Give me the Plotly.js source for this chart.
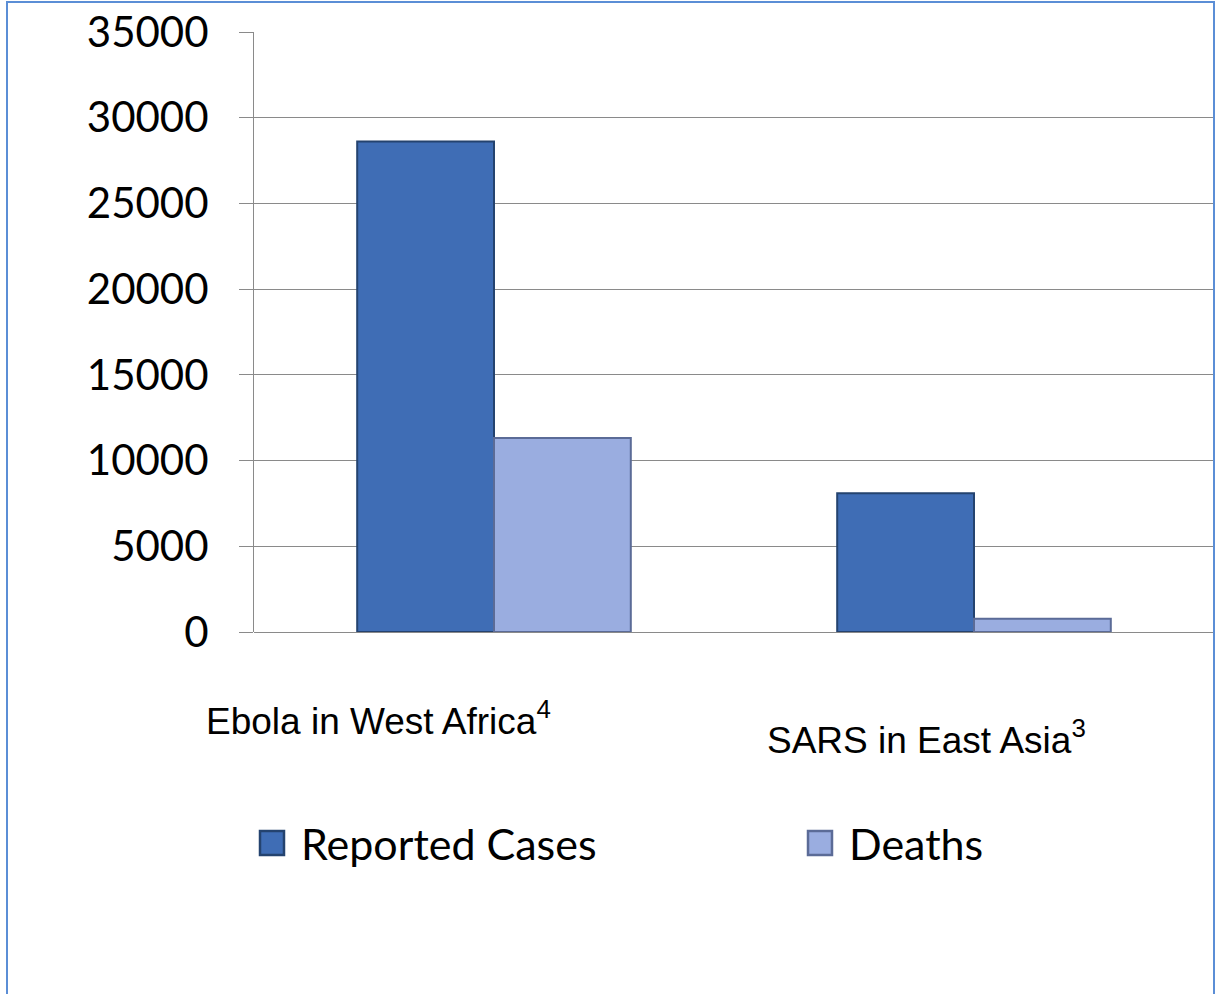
<!DOCTYPE html>
<html>
<head>
<meta charset="utf-8">
<script src="https://cdn.plot.ly/plotly-3.0.1.min.js"></script>
<style>
  html, body { margin: 0; padding: 0; background: #ffffff; }
  #chart { width: 1218px; height: 994px; }
</style>
</head>
<body>
<div id="chart"></div>
<script>
// Outbreak totals
const categories = ["Ebola in West Africa", "SARS in East Asia"];
const categoryLabels = ["Ebola in West Africa<sup>4</sup>", "SARS in East Asia<sup>3</sup>"];
const reportedCases = [28616, 8096];
const deaths = [11310, 774];
const seriesNames = ["Reported Cases", "Deaths"];
const yTicks = [0, 5000, 10000, 15000, 20000, 25000, 30000, 35000];

const casesColor = "#3f6db5";
const casesEdge = "#24436f";
const deathsColor = "#9aade0";
const deathsEdge = "#5b6b97";
const gridColor = "#8a8a8a";

// plot-area geometry helpers (pixels -> paper fractions)
const M = { l: 254, r: 4, t: 32, b: 362 };
const W = 1218, H = 994;
const plotW = W - M.l - M.r, plotH = H - M.t - M.b;
const px = v => (v - M.l) / plotW;
const py = v => (H - M.b - v) / plotH;

const traces = [
  {
    type: "bar", x: categories, y: reportedCases, name: seriesNames[0],
    marker: { color: casesColor, line: { color: casesEdge, width: 2 } }
  },
  {
    type: "bar", x: categories, y: deaths, name: seriesNames[1],
    marker: { color: deathsColor, line: { color: deathsEdge, width: 2 } }
  }
];

// legend keys: swatch + label for each series
const legendFont = { family: "Lato, 'Open Sans', sans-serif", size: 43, color: "#000000" };
const legendSwatchX = [260, 808];
const legendFill = [casesColor, deathsColor];
const legendEdge = [casesEdge, deathsEdge];
const legendY = 843;
const legendShapes = seriesNames.map((n, i) => ({
  type: "rect", xref: "paper", yref: "paper",
  x0: px(legendSwatchX[i]), x1: px(legendSwatchX[i] + 24),
  y0: py(legendY + 12), y1: py(legendY - 12),
  fillcolor: legendFill[i], line: { color: legendEdge[i], width: 2.5 }
}));
const legendLabels = seriesNames.map((n, i) => ({
  xref: "paper", yref: "paper", x: px(legendSwatchX[i] + 39), y: py(legendY),
  xanchor: "left", yanchor: "middle", showarrow: false, text: n, font: legendFont
}));

const catFont = { family: "'Liberation Sans', Arial, sans-serif", size: 37, color: "#000000" };

const layout = {
  width: W, height: H,
  margin: { l: M.l, r: M.r, t: M.t, b: M.b, pad: 0 },
  paper_bgcolor: "#ffffff", plot_bgcolor: "#ffffff",
  barmode: "group", bargap: 0.43, bargroupgap: 0,
  showlegend: false,
  xaxis: {
    type: "category", categoryorder: "array", categoryarray: categories,
    range: [-0.5, 1.5],
    showticklabels: false, ticks: "", showgrid: false, zeroline: false,
    showline: false, fixedrange: true
  },
  yaxis: {
    range: [0, 35000], tickvals: yTicks, ticktext: yTicks.map(String),
    ticks: "outside", ticklen: 14, tickcolor: gridColor, tickwidth: 1,
    showgrid: true, gridcolor: gridColor, gridwidth: 1,
    zeroline: true, zerolinecolor: gridColor, zerolinewidth: 1,
    showline: true, linecolor: gridColor, linewidth: 1,
    ticklabelstandoff: 22,
    tickfont: { family: "Lato, 'Open Sans', sans-serif", size: 42, color: "#000000" },
    fixedrange: true
  },
  annotations: [
    { xref: "x", yref: "paper", x: categories[0], y: py(718), xshift: -116,
      text: categoryLabels[0], showarrow: false, xanchor: "center", yanchor: "middle", font: catFont },
    { xref: "x", yref: "paper", x: categories[1], y: py(737), xshift: -48,
      text: categoryLabels[1], showarrow: false, xanchor: "center", yanchor: "middle", font: catFont }
  ].concat(legendLabels),
  shapes: [
    // chart frame
    { type: "rect", xref: "paper", yref: "paper", x0: px(7), x1: px(1214), y0: py(1000), y1: py(2),
      line: { color: "#5b8ed6", width: 2 }, fillcolor: "rgba(0,0,0,0)", layer: "above" }
  ].concat(legendShapes)
};

Plotly.newPlot("chart", traces, layout, { displayModeBar: false, staticPlot: true });
</script>
</body>
</html>
